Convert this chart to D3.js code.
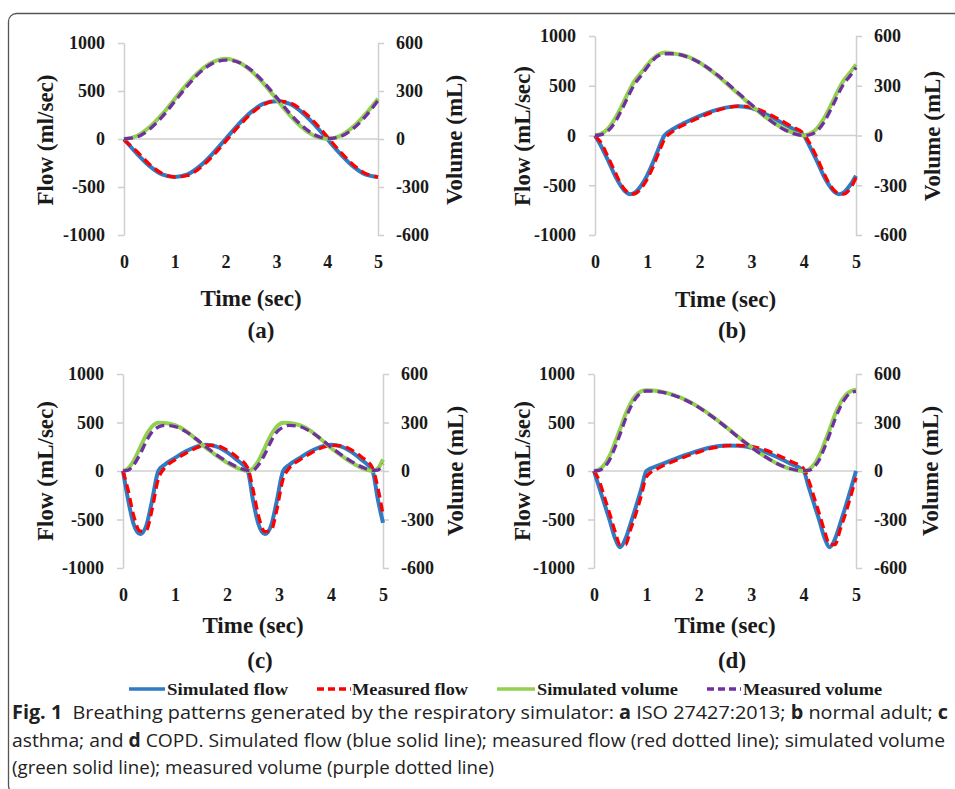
<!DOCTYPE html>
<html>
<head>
<meta charset="utf-8">
<script src="https://cdn.jsdelivr.net/npm/d3@7"></script>
<style>
  html, body { margin: 0; padding: 0; background: #ffffff; }
  svg { display: block; }
</style>
</head>
<body>
<svg id="chart" width="955" height="789"></svg>
<script>
// ---------------- DATA ----------------
const timeTicks = [0, 1, 2, 3, 4, 5];
const flowTicks = [-1000, -500, 0, 500, 1000];
const volTicks = [-600, -300, 0, 300, 600];

const panelTags = ["(a)", "(b)", "(c)", "(d)"];
const flowTitles = ["Flow (ml/sec)", "Flow (mL/sec)", "Flow (mL/sec)", "Flow (mL/sec)"];
const volTitle = "Volume (mL)";
const timeTitle = "Time (sec)";
const seriesNames = ["Simulated flow", "Measured flow", "Simulated volume", "Measured volume"];

// (a) ISO 27427:2013
const aTime     = [0, 0.25, 0.5, 0.75, 1, 1.25, 1.5, 1.75, 2, 2.25, 2.5, 2.75, 3, 3.25, 3.5, 3.75, 4, 4.25, 4.5, 4.75, 5];
const aSimFlow  = [0, -150, -280, -368, -395, -368, -280, -150, 0, 150, 280, 368, 392, 368, 280, 150, 0, -150, -280, -368, -395];
const aMeasFlow = [-10, -128, -262, -358, -396, -380, -300, -175, -25, 128, 262, 358, 395, 380, 300, 175, 25, -128, -262, -358, -396];
const aSimVol   = [0, 19, 73, 154, 250, 346, 427, 481, 502, 481, 427, 346, 250, 154, 73, 19, 0, 19, 73, 154, 252];
const aMeasVol  = [0, 12, 60, 138, 235, 333, 418, 474, 493, 480, 432, 355, 262, 165, 84, 26, 3, 14, 62, 140, 240];

// (b) normal adult
const bTime     = [0, 0.1, 0.25, 0.4, 0.5, 0.6, 0.67, 0.75, 0.9, 1.0, 1.1, 1.2, 1.33, 1.5, 1.75, 2.0, 2.25, 2.5, 2.75, 3.0, 3.25, 3.5, 3.75, 4.0, 4.1, 4.25, 4.4, 4.5, 4.6, 4.67, 4.75, 4.9, 5.0];
const bSimFlow  = [0, -90, -250, -420, -510, -572, -590, -578, -490, -400, -285, -155, 0, 65, 135, 195, 245, 280, 295, 275, 220, 150, 78, 0, -95, -255, -425, -512, -573, -590, -578, -490, -405];
const bMeasFlow = [-10, -60, -215, -385, -490, -560, -588, -588, -520, -440, -330, -200, -40, 45, 120, 180, 235, 275, 295, 285, 235, 170, 95, 15, -65, -220, -395, -495, -560, -585, -590, -525, -425];
const bSimVol   = [0, 8, 42, 110, 170, 235, 280, 325, 385, 425, 460, 485, 500, 495, 478, 440, 385, 320, 250, 180, 115, 62, 22, 0, 8, 42, 110, 170, 235, 280, 325, 385, 428];
const bMeasVol  = [0, 4, 28, 88, 148, 212, 258, 305, 368, 412, 450, 478, 493, 493, 476, 440, 388, 325, 255, 185, 118, 58, 17, 0, 3, 26, 86, 146, 210, 256, 303, 365, 410];

// (c) asthma
const cTime     = [0, 0.1, 0.2, 0.33, 0.45, 0.55, 0.68, 0.8, 1.0, 1.2, 1.4, 1.6, 1.8, 2.0, 2.2, 2.4, 2.5, 2.6, 2.73, 2.85, 2.95, 3.08, 3.2, 3.4, 3.6, 3.8, 4.0, 4.2, 4.4, 4.6, 4.8, 4.9, 5.0];
const cSimFlow  = [0, -300, -540, -650, -560, -330, 0, 65, 135, 200, 248, 270, 252, 195, 110, 0, -300, -540, -650, -560, -330, 0, 65, 135, 200, 248, 270, 252, 195, 110, 0, -290, -535];
const cMeasFlow = [0, -200, -450, -620, -610, -420, -80, 30, 115, 180, 235, 265, 262, 215, 140, 30, -190, -450, -625, -610, -420, -80, 30, 115, 180, 235, 265, 262, 215, 140, 30, -170, -450];
const cSimVol   = [0, 15, 60, 145, 225, 272, 298, 297, 283, 250, 198, 142, 95, 52, 18, 0, 15, 60, 145, 225, 272, 298, 297, 283, 250, 198, 142, 95, 52, 18, 0, 15, 72];
const cMeasVol  = [0, 5, 35, 105, 185, 238, 272, 282, 275, 245, 200, 148, 100, 58, 24, 4, 5, 35, 105, 185, 238, 272, 282, 275, 245, 200, 148, 100, 58, 24, 4, 6, 45];

// (d) COPD
const dTime     = [0, 0.1, 0.2, 0.3, 0.4, 0.5, 0.6, 0.7, 0.8, 0.9, 1.0, 1.25, 1.5, 1.75, 2.0, 2.25, 2.5, 2.75, 3.0, 3.25, 3.5, 3.75, 4.0, 4.1, 4.2, 4.3, 4.4, 4.5, 4.6, 4.7, 4.8, 4.9, 5.0];
const dSimFlow  = [0, -170, -340, -510, -690, -785, -700, -540, -370, -190, 0, 60, 115, 165, 210, 245, 262, 260, 240, 200, 142, 75, 0, -170, -340, -510, -690, -785, -700, -540, -370, -190, 0];
const dMeasFlow = [0, -100, -270, -440, -620, -760, -760, -600, -440, -260, -60, 35, 95, 150, 195, 235, 258, 265, 255, 220, 165, 100, 25, -100, -270, -440, -620, -760, -760, -600, -440, -260, -70];
const dSimVol   = [0, 10, 40, 95, 175, 260, 350, 420, 468, 493, 500, 493, 472, 440, 395, 340, 278, 212, 148, 92, 45, 13, 0, 10, 40, 95, 175, 260, 350, 420, 468, 493, 502];
const dMeasVol  = [0, 4, 25, 70, 145, 230, 320, 395, 452, 485, 495, 490, 470, 438, 393, 338, 276, 210, 148, 92, 45, 14, 2, 4, 25, 70, 145, 230, 320, 395, 452, 485, 493];

// ---------------- STYLE / LAYOUT ----------------
const colors = { simFlow: "#2f7bc4", measFlow: "#ff0000", simVol: "#92d050", measVol: "#7030a0" };
const serif = "'Liberation Serif', 'Times New Roman', serif";
const sans = "'Open Sans', 'Noto Sans', sans-serif";
const axisGray = "#cfcfcf";

const panels = [
  { tag: panelTags[0], flowTitle: flowTitles[0], time: aTime, simFlow: aSimFlow, measFlow: aMeasFlow, simVol: aSimVol, measVol: aMeasVol,
    L: 124, R: 378, T: 43, B: 235, lx: 45, rx: 454, ty: 140, timeY: 298, tagX: 261, tagY: 330 },
  { tag: panelTags[1], flowTitle: flowTitles[1], time: bTime, simFlow: bSimFlow, measFlow: bMeasFlow, simVol: bSimVol, measVol: bMeasVol,
    L: 595, R: 856, T: 36, B: 235, lx: 522, rx: 932, ty: 136, timeY: 299, tagX: 732, tagY: 330 },
  { tag: panelTags[2], flowTitle: flowTitles[2], time: cTime, simFlow: cSimFlow, measFlow: cMeasFlow, simVol: cSimVol, measVol: cMeasVol,
    L: 123, R: 383, T: 374, B: 568, lx: 45, rx: 455, ty: 471, timeY: 625, tagX: 260, tagY: 660 },
  { tag: panelTags[3], flowTitle: flowTitles[3], time: dTime, simFlow: dSimFlow, measFlow: dMeasFlow, simVol: dSimVol, measVol: dMeasVol,
    L: 594, R: 856, T: 374, B: 568, lx: 522, rx: 930, ty: 471, timeY: 625, tagX: 732, tagY: 660 }
];

const svg = d3.select("#chart");
const fmt = d => String(d);

// frame
svg.append("rect")
  .attr("x", 8.5).attr("y", 13.5).attr("width", 1000).attr("height", 780)
  .attr("rx", 8).attr("ry", 8)
  .attr("fill", "none").attr("stroke", "#555").attr("stroke-width", 1.3);

panels.forEach(p => {
  const g = svg.append("g");
  const x = d3.scaleLinear().domain([0, 5]).range([p.L, p.R]);
  const yF = d3.scaleLinear().domain([-1000, 1000]).range([p.B, p.T]);
  const yV = d3.scaleLinear().domain([-600, 600]).range([p.B, p.T]);

  // zero gridline
  g.append("line")
    .attr("x1", p.L).attr("x2", p.R).attr("y1", yF(0)).attr("y2", yF(0))
    .attr("stroke", axisGray).attr("stroke-width", 1.5);

  const styleAxis = sel => {
    sel.select(".domain").attr("stroke", axisGray).attr("stroke-width", 1.5);
    sel.selectAll(".tick line").attr("stroke", axisGray).attr("stroke-width", 1.5);
    sel.selectAll("text").attr("font-family", serif).attr("font-weight", "bold")
      .attr("font-size", 18).attr("fill", "#1a1a1a");
  };

  g.append("g").attr("transform", `translate(${p.L},0)`)
    .call(d3.axisLeft(yF).tickValues(flowTicks).tickSize(6).tickSizeOuter(0).tickPadding(13).tickFormat(fmt))
    .call(styleAxis);

  g.append("g").attr("transform", `translate(${p.R},0)`)
    .call(d3.axisRight(yV).tickValues(volTicks).tickSize(6).tickSizeOuter(0).tickPadding(12).tickFormat(fmt))
    .call(styleAxis);

  const xa = g.append("g").attr("transform", `translate(0,${p.B})`)
    .call(d3.axisBottom(x).tickValues(timeTicks).tickSize(0).tickFormat(fmt))
    .call(styleAxis);
  xa.select(".domain").remove();
  xa.selectAll("text").attr("y", 27).attr("dy", "0.35em");

  // lines
  const lineF = arr => d3.line().x((d, i) => x(p.time[i])).y(d => yF(d)).curve(d3.curveMonotoneX)(arr);
  const lineV = arr => d3.line().x((d, i) => x(p.time[i])).y(d => yV(d)).curve(d3.curveMonotoneX)(arr);

  g.append("path").attr("d", lineF(p.simFlow)).attr("fill", "none")
    .attr("stroke", colors.simFlow).attr("stroke-width", 4).attr("stroke-linejoin", "round");
  g.append("path").attr("d", lineF(p.measFlow)).attr("fill", "none")
    .attr("stroke", colors.measFlow).attr("stroke-width", 3.3).attr("stroke-dasharray", "9,5");
  g.append("path").attr("d", lineV(p.simVol)).attr("fill", "none")
    .attr("stroke", colors.simVol).attr("stroke-width", 4).attr("stroke-linejoin", "round");
  g.append("path").attr("d", lineV(p.measVol)).attr("fill", "none")
    .attr("stroke", colors.measVol).attr("stroke-width", 3.3).attr("stroke-dasharray", "9,5");

  // titles
  const title = (txt, tx, ty, rot) => g.append("text")
    .attr("transform", `translate(${tx},${ty})` + (rot ? " rotate(-90)" : ""))
    .attr("text-anchor", "middle").attr("dominant-baseline", "central")
    .attr("font-family", serif).attr("font-weight", "bold").attr("font-size", 23)
    .attr("fill", "#1a1a1a").text(txt);

  title(p.flowTitle, p.lx, p.ty, true);
  title(volTitle, p.rx, p.ty, true);
  title(timeTitle, (p.L + p.R) / 2, p.timeY, false);
  title(p.tag, p.tagX, p.tagY, false);
});

// ---------------- LEGEND ----------------
const legendItems = [
  { name: seriesNames[0], color: colors.simFlow, dash: null, x1: 129, x2: 165, tx: 167, tw: 121 },
  { name: seriesNames[1], color: colors.measFlow, dash: "7,4", x1: 317, x2: 351, tx: 352, tw: 116 },
  { name: seriesNames[2], color: colors.simVol, dash: null, x1: 497, x2: 535, tx: 537, tw: 141 },
  { name: seriesNames[3], color: colors.measVol, dash: "7,4", x1: 707, x2: 741, tx: 743, tw: 139 }
];
const lg = svg.append("g");
legendItems.forEach(it => {
  lg.append("line").attr("x1", it.x1).attr("x2", it.x2).attr("y1", 689).attr("y2", 689)
    .attr("stroke", it.color).attr("stroke-width", 3.5)
    .attr("stroke-dasharray", it.dash);
  lg.append("text").attr("x", it.tx).attr("y", 689).attr("dominant-baseline", "central")
    .attr("font-family", serif).attr("font-weight", "bold").attr("font-size", 17)
    .attr("textLength", it.tw).attr("lengthAdjust", "spacingAndGlyphs")
    .attr("fill", "#1a1a1a").text(it.name);
});

// ---------------- CAPTION ----------------
const captionLines = [
  { y: 719, w: 936, parts: [["Fig. 1", true], ["  Breathing patterns generated by the respiratory simulator: ", false], ["a", true], [" ISO 27427:2013; ", false], ["b", true], [" normal adult; ", false], ["c", true]] },
  { y: 747, w: 933, parts: [["asthma; and ", false], ["d", true], [" COPD. Simulated flow (blue solid line); measured flow (red dotted line); simulated volume", false]] },
  { y: 774, w: 482, parts: [["(green solid line); measured volume (purple dotted line)", false]] }
];
captionLines.forEach(cl => {
  const t = svg.append("text").attr("x", 12).attr("y", cl.y)
    .attr("font-family", sans).attr("font-size", 19).attr("fill", "#222")
    .attr("textLength", cl.w).attr("lengthAdjust", "spacingAndGlyphs")
    .attr("xml:space", "preserve").style("white-space", "pre");
  cl.parts.forEach(([s, b]) => t.append("tspan").attr("font-weight", b ? "bold" : "normal").text(s));
});
</script>
</body>
</html>
